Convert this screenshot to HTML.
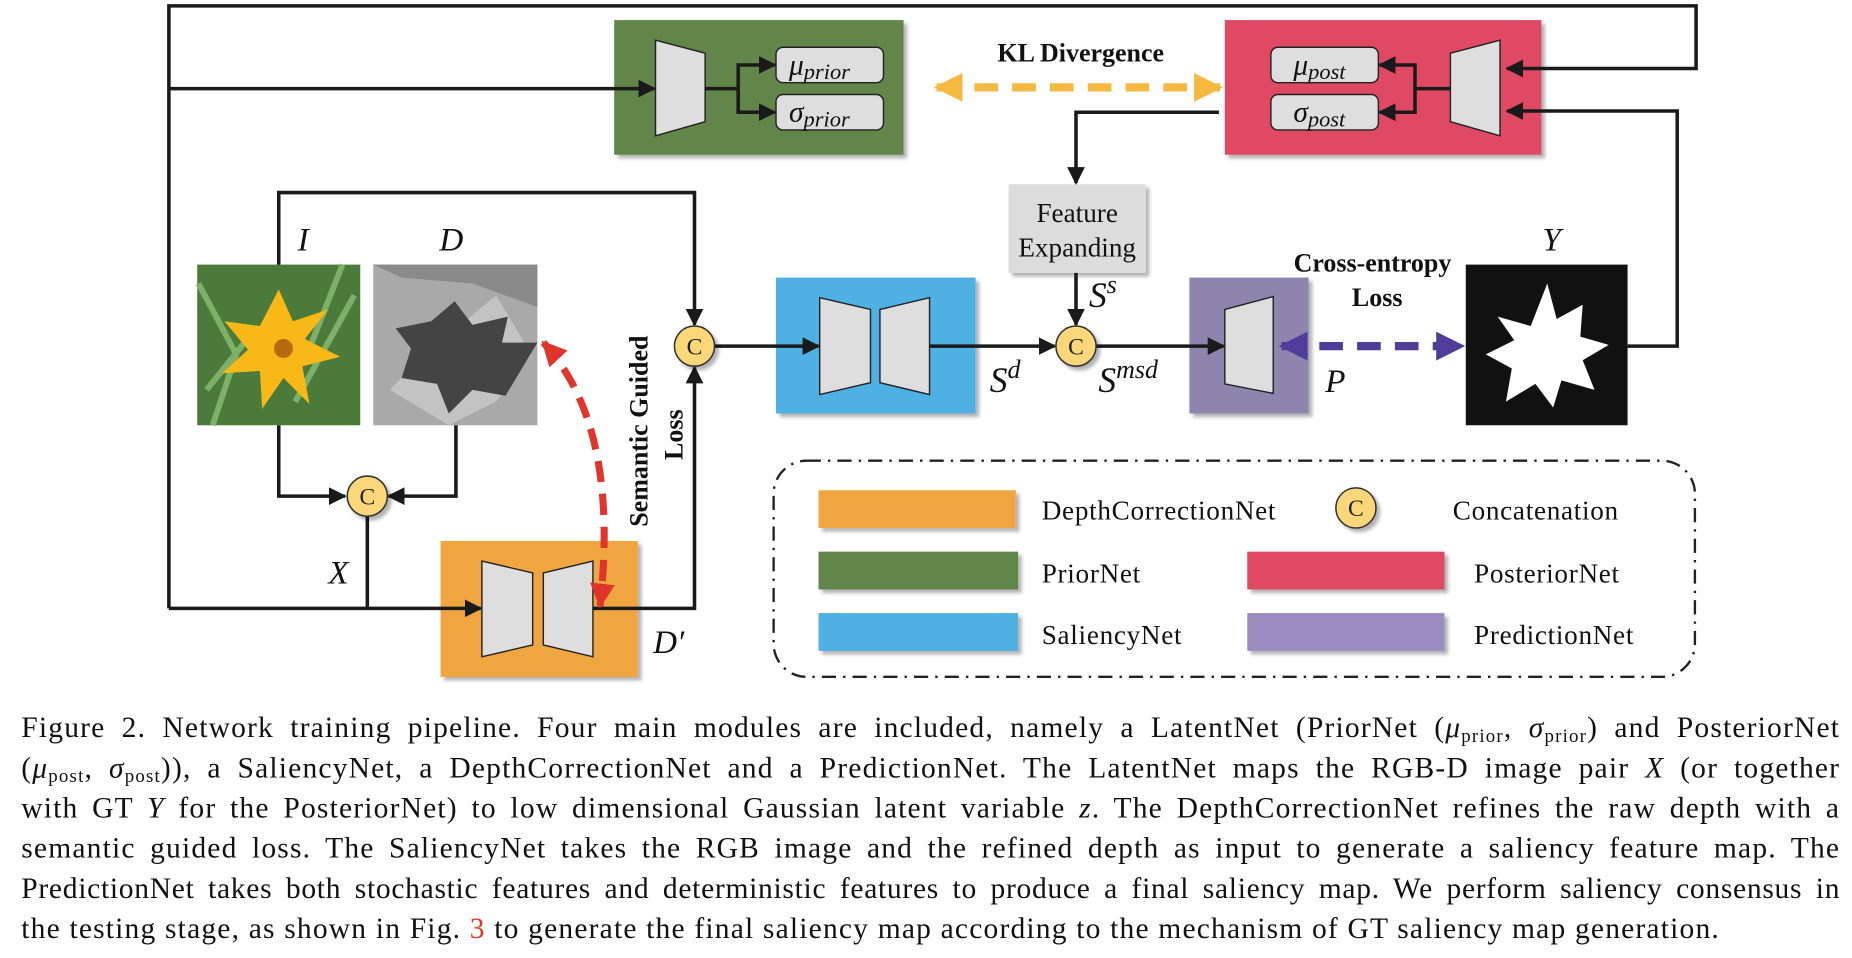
<!DOCTYPE html>
<html><head><meta charset="utf-8"><style>
html,body{margin:0;padding:0;background:#fff;overflow:hidden}
#w{width:1568px;height:811px;transform:scale(1.18112,1.18126);transform-origin:0 0;position:relative}
svg{position:absolute;left:0;top:0}
.cap{position:absolute;left:18px;width:1540px;font-family:"Liberation Serif",serif;font-size:25px;letter-spacing:1px;color:#111;text-align:justify;text-align-last:justify;white-space:nowrap;line-height:34px}
.cap.last{text-align-last:left}
.cap i{font-style:italic}
sub{font-size:16px;vertical-align:-4px;line-height:0}
</style></head><body><div id="w">
<svg width="1568" height="600" viewBox="0 0 1568 600" font-family="Liberation Serif, serif">
<defs>
<marker id="a" viewBox="0 0 10 10" refX="9" refY="5" markerWidth="5" markerHeight="5" orient="auto-start-reverse"><path d="M0,0L10,5L0,10z" fill="#1a1a1a"/></marker>
<marker id="ao" viewBox="0 0 10 10" refX="9" refY="5" markerWidth="3.5" markerHeight="3.5" orient="auto-start-reverse"><path d="M0,0L10,5L0,10z" fill="#f5b942"/></marker>
<marker id="ap" viewBox="0 0 10 10" refX="9" refY="5" markerWidth="3.5" markerHeight="3.5" orient="auto-start-reverse"><path d="M0,0L10,5L0,10z" fill="#4e3d99"/></marker>
<marker id="ar" viewBox="0 0 10 10" refX="9" refY="5" markerWidth="3.5" markerHeight="3.5" orient="auto-start-reverse"><path d="M0,0L10,5L0,10z" fill="#e0352a"/></marker>
<filter id="sh"><feDropShadow dx="3" dy="3" stdDeviation="1.5" flood-opacity="0.3"/></filter>
</defs>
<g filter="url(#sh)">
<rect x="520" y="17" width="245" height="114" fill="#62854a"/>
<rect x="1037" y="17" width="268" height="114" fill="#e04a64"/>
<rect x="854" y="156" width="116" height="75" fill="#dcdcdc"/>
<rect x="657" y="235" width="169" height="115" fill="#4fb0e3"/>
<rect x="1007" y="235" width="101" height="115" fill="#8f84ae"/>
<rect x="373" y="458" width="167" height="115" fill="#f0a640"/>
<rect x="693" y="415" width="167" height="32" fill="#f0a640"/>
<rect x="693" y="467" width="169" height="32" fill="#62854a"/>
<rect x="693" y="519" width="169" height="32" fill="#4fb0e3"/>
<rect x="1056" y="467" width="167" height="32" fill="#e04a64"/>
<rect x="1056" y="519" width="167" height="32" fill="#9a8cc0"/>
</g>
<g fill="#dedede" stroke="#222" stroke-width="1.2">
<path d="M555,34L597,45L597,103L555,115z"/>
<path d="M1270,34L1228,45L1228,103L1270,115z"/>
<path d="M694,252L737,262L737,324L694,334z"/><path d="M787,252L745,262L745,324L787,334z"/>
<path d="M408,475L451,485L451,546L408,556z"/><path d="M502,475L460,485L460,546L502,556z"/>
<path d="M1037,262L1078,251L1078,333L1037,325z"/>
<rect x="657" y="40" width="91" height="30" rx="6"/><rect x="657" y="80" width="91" height="30" rx="6"/>
<rect x="1076" y="40" width="91" height="30" rx="6"/><rect x="1076" y="80" width="91" height="30" rx="6"/>
</g>
<g font-style="italic" font-size="25" fill="#111">
<text x="668" y="63">μ<tspan font-size="19" dy="4">prior</tspan></text>
<text x="668" y="103">σ<tspan font-size="19" dy="4">prior</tspan></text>
<text x="1095" y="63">μ<tspan font-size="19" dy="4">post</tspan></text>
<text x="1095" y="103">σ<tspan font-size="19" dy="4">post</tspan></text>
<text x="252" y="212" font-size="28">I</text><text x="372" y="212" font-size="28">D</text>
<text x="1306" y="212" font-size="28">Y</text>
<text x="278" y="494" font-size="28">X</text>
<text x="553" y="553" font-size="28">D′</text>
<text x="838" y="332" font-size="30">S<tspan font-size="22" dy="-12">d</tspan></text>
<text x="930" y="332" font-size="30">S<tspan font-size="22" dy="-12">msd</tspan></text>
<text x="922" y="260" font-size="30">S<tspan font-size="22" dy="-12">s</tspan></text>
<text x="1122" y="332" font-size="28">P</text>
</g>
<g fill="#111" font-weight="bold" font-size="22" text-anchor="middle">
<text x="915" y="52">KL Divergence</text>
<text x="1162" y="230">Cross-entropy</text>
<text x="1166" y="259">Loss</text>
<text transform="translate(548,365) rotate(-90)">Semantic Guided</text>
<text transform="translate(578,368) rotate(-90)">Loss</text>
</g>
<g font-size="23" fill="#111" text-anchor="middle">
<text x="912" y="188">Feature</text><text x="912" y="217">Expanding</text>
</g>
<g font-size="23" fill="#111" letter-spacing="0.6">
<text x="882" y="440">DepthCorrectionNet</text><text x="1230" y="440">Concatenation</text>
<text x="882" y="493">PriorNet</text><text x="1248" y="493">PosteriorNet</text>
<text x="882" y="545">SaliencyNet</text><text x="1248" y="545">PredictionNet</text>
</g>
<rect x="167" y="224" width="138" height="136" fill="#4b7a3a"/>
<path d="M168,240L200,300L180,360M290,224L260,300M300,250L250,340M175,330L215,280" stroke="#7fb06a" stroke-width="5" fill="none"/>
<polygon points="236,245 248,272 278,262 258,287 288,302 256,310 262,342 240,320 222,346 220,314 188,316 210,296 190,272 220,276" fill="#f8b817"/>
<circle cx="240" cy="295" r="8" fill="#b86a10"/>
<rect x="316" y="224" width="139" height="136" fill="#a9a9a9"/>
<path d="M316,224L455,224L455,260L400,240L340,235z" fill="#8a8a8a"/>
<path d="M330,330L360,300L420,250L450,300L420,340L380,360z" fill="#c3c3c3"/>
<polygon points="385,255 400,275 430,268 425,290 455,290 440,315 428,335 400,330 380,350 370,325 340,320 348,295 335,278 365,272" fill="#444"/>
<rect x="1241" y="224" width="137" height="136" fill="#111"/>
<polygon points="1310,240 1318,270 1340,258 1338,285 1362,292 1340,305 1350,330 1322,322 1315,345 1300,325 1275,340 1280,312 1258,300 1282,288 1268,268 1296,276" fill="#fff"/>
<g stroke="#1a1a1a" stroke-width="3" fill="none">
<polyline points="143,515 143,5 1436,5 1436,58 1276,58" marker-end="url(#a)"/>
<line x1="143" y1="75" x2="554" y2="75" marker-end="url(#a)"/>
<line x1="597" y1="75" x2="625" y2="75"/>
<polyline points="656,55 625,55 625,95 656,95" marker-start="url(#a)" marker-end="url(#a)"/>
<line x1="1228" y1="75" x2="1198" y2="75"/>
<polyline points="1168,55 1198,55 1198,95 1168,95" marker-start="url(#a)" marker-end="url(#a)"/>
<polyline points="1378,293 1420,293 1420,94 1276,94" marker-end="url(#a)"/>
<polyline points="1032,95 911,95 911,155" marker-end="url(#a)"/>
<line x1="911" y1="231" x2="911" y2="275" marker-end="url(#a)"/>
<polyline points="236,224 236,163 588,163 588,275" marker-end="url(#a)"/>
<line x1="605" y1="293" x2="693" y2="293" marker-end="url(#a)"/>
<line x1="787" y1="293" x2="893" y2="293" marker-end="url(#a)"/>
<line x1="928" y1="293" x2="1036" y2="293" marker-end="url(#a)"/>
<polyline points="236,360 236,420 292,420" marker-end="url(#a)"/>
<polyline points="386,360 386,420 329,420" marker-end="url(#a)"/>
<line x1="311" y1="437" x2="311" y2="515"/>
<line x1="143" y1="515" x2="407" y2="515" marker-end="url(#a)"/>
<polyline points="502,515 588,515 588,311" marker-end="url(#a)"/>
</g>
<line x1="793" y1="74" x2="1033" y2="74" stroke="#f5b942" stroke-width="7" stroke-dasharray="20,12" marker-start="url(#ao)" marker-end="url(#ao)"/>
<line x1="1085" y1="293" x2="1238" y2="293" stroke="#4e3d99" stroke-width="7" stroke-dasharray="20,12" marker-start="url(#ap)" marker-end="url(#ap)"/>
<path d="M460,290Q525,360 508,513" stroke="#e0352a" stroke-width="6" fill="none" stroke-dasharray="18,10" marker-start="url(#ar)" marker-end="url(#ar)"/>
<g fill="#fcd77a" stroke="#333" stroke-width="1.3" filter="url(#sh)">
<ellipse cx="588" cy="293" rx="17" ry="17"/><ellipse cx="911" cy="293" rx="17" ry="17"/>
<ellipse cx="311" cy="420" rx="17" ry="17"/><ellipse cx="1148" cy="430" rx="17" ry="17"/>
</g>
<g font-size="20" fill="#222" text-anchor="middle">
<text x="588" y="300">C</text><text x="911" y="300">C</text><text x="311" y="427">C</text><text x="1148" y="437">C</text>
</g>
<rect x="655" y="390" width="780" height="183" rx="28" fill="none" stroke="#222" stroke-width="2" stroke-dasharray="12,6,2,6"/>
</svg>
<div class="cap" style="top:600px">Figure 2. Network training pipeline.  Four main modules are included, namely a LatentNet (PriorNet (<i>μ</i><sub>prior</sub>, <i>σ</i><sub>prior</sub>) and PosteriorNet</div>
<div class="cap" style="top:634px">(<i>μ</i><sub>post</sub>, <i>σ</i><sub>post</sub>)), a SaliencyNet, a DepthCorrectionNet and a PredictionNet.  The LatentNet maps the RGB-D image pair <i>X</i> (or together</div>
<div class="cap" style="top:668px">with GT <i>Y</i> for the PosteriorNet) to low dimensional Gaussian latent variable <i>z</i>.  The DepthCorrectionNet refines the raw depth with a</div>
<div class="cap" style="top:702px">semantic guided loss.  The SaliencyNet takes the RGB image and the refined depth as input to generate a saliency feature map.  The</div>
<div class="cap" style="top:736px;letter-spacing:0.6px">PredictionNet takes both stochastic features and deterministic features to produce a final saliency map. We perform saliency consensus in</div>
<div class="cap last" style="top:770px">the testing stage, as shown in Fig. <span style="color:#e0352a">3</span> to generate the final saliency map according to the mechanism of GT saliency map generation.</div>
</div></body></html>
